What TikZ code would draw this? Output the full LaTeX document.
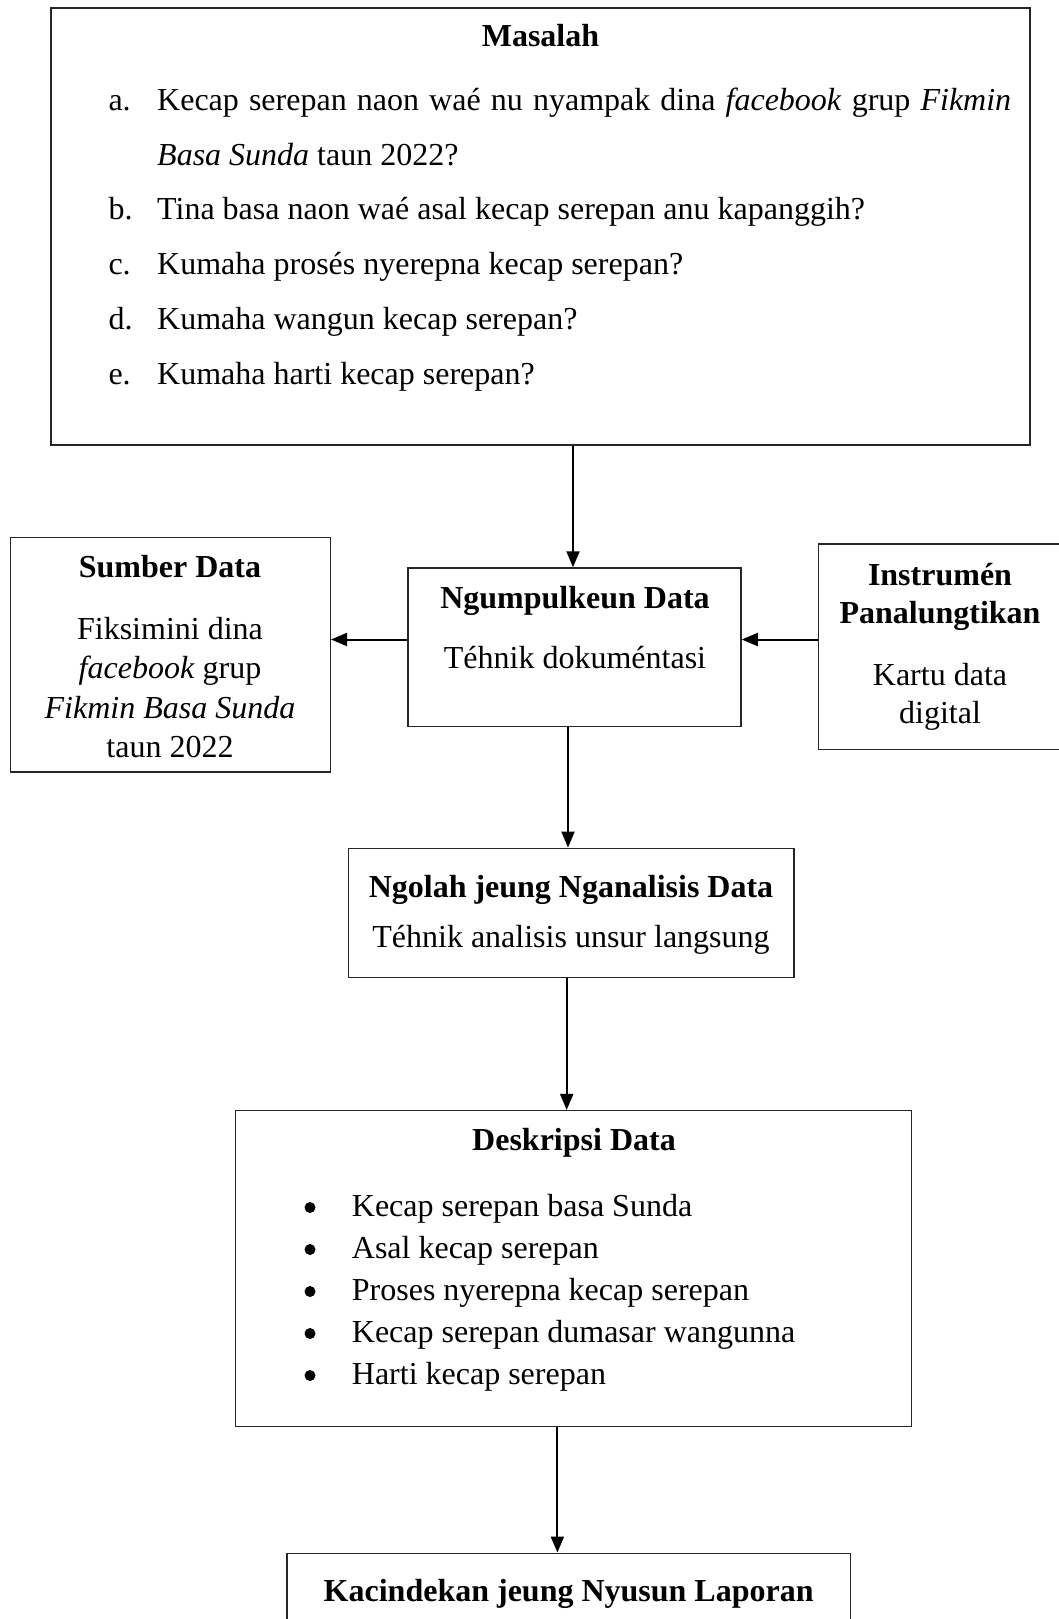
\documentclass[tikz,border=0pt]{standalone}
\usepackage{fontspec}
\setmainfont{Liberation Serif}
\usetikzlibrary{arrows.meta}
\begin{document}
\begin{tikzpicture}[x=1pt,y=-1pt,
  box/.style={draw=black!85, line width=1.5pt, rectangle, inner sep=0pt},
  txt/.style={inner sep=0pt, anchor=base, font=\fontsize{32}{38}\selectfont},
  txtw/.style={inner sep=0pt, anchor=base west, font=\fontsize{32}{38}\selectfont},
  bul/.style={circle, fill=black, inner sep=0pt, minimum size=11pt},
  arr/.style={-{Triangle[length=16pt,width=13pt]}, line width=2pt, black}]
\clip (0,0) rectangle (1059,1619);
\fill[white] (0,0) rectangle (1059,1619);
% boxes
\node[box, minimum width=979pt, minimum height=437pt] (masalah) at (540.5,226.5) {};
\node[box, minimum width=333pt, minimum height=158.5pt] (ngum) at (574.5,647.25) {};
\node[box, minimum width=320pt, minimum height=234.7pt] (sumber) at (170.3,654.65) {};
\node[box, minimum width=262pt, minimum height=205.3pt] (instr) at (949.5,646.65) {};
\node[box, minimum width=445.5pt, minimum height=129pt] (ngolah) at (571.25,912.8) {};
\node[box, minimum width=676.1pt, minimum height=316pt] (desk) at (573.35,1268.7) {};
\node[box, minimum width=563.5pt, minimum height=100pt] (kac) at (568.75,1603.3) {};
% Masalah text
\node[txt] (mt) at (540.5,47) {\textbf{Masalah}};
\node[txtw] (la) at (108.3,110) {a.};
\node[txtw] (ta) at (157,110) {\makebox[854pt][s]{Kecap serepan naon waé nu nyampak dina \textit{facebook} grup \textit{Fikmin}}};
\node[txtw] (ta2) at (157,165) {\textit{Basa Sunda} taun 2022?};
\node[txtw] (lb) at (108.3,219) {b.};
\node[txtw] (tb) at (157,219) {Tina basa naon waé asal kecap serepan anu kapanggih?};
\node[txtw] (lc) at (108.3,274) {c.};
\node[txtw] (tc) at (157,274) {Kumaha prosés nyerepna kecap serepan?};
\node[txtw] (ld) at (108.3,329) {d.};
\node[txtw] (td) at (157,329) {Kumaha wangun kecap serepan?};
\node[txtw] (le) at (108.3,384) {e.};
\node[txtw] (te) at (157,384) {Kumaha harti kecap serepan?};
% Ngumpulkeun
\node[txt] (nt) at (575,608.3) {\textbf{Ngumpulkeun Data}};
\node[txt] (n2) at (575,668.3) {Téhnik dokuméntasi};
% Sumber
\node[txt] (st) at (170,577.5) {\textbf{Sumber Data}};
\node[txt] (s2) at (170,639) {Fiksimini dina};
\node[txt] (s3) at (170,678) {\textit{facebook} grup};
\node[txt] (s4) at (170,718) {\textit{Fikmin Basa Sunda}};
\node[txt] (s5) at (170,757) {taun 2022};
% Instrumen
\node[txt] (it) at (940,585) {\textbf{Instrumén}};
\node[txt] (i2) at (940,623.3) {\textbf{Panalungtikan}};
\node[txt] (i3) at (940,685) {Kartu data};
\node[txt] (i4) at (940,723.3) {digital};
% Ngolah
\node[txt] (gt) at (571,897.5) {\textbf{Ngolah jeung Nganalisis Data}};
\node[txt] (g2) at (571,947.5) {Téhnik analisis unsur langsung};
% Deskripsi
\node[txt] (dt) at (574,1150.7) {\textbf{Deskripsi Data}};
\foreach \i/\yy/\t in {1/1216/Kecap serepan basa Sunda, 2/1258/Asal kecap serepan, 3/1300/Proses nyerepna kecap serepan, 4/1342/Kecap serepan dumasar wangunna, 5/1384/Harti kecap serepan}{
  \node[bul] (db\i) at (310,\yy-8.5) {};
  \node[txtw] (dx\i) at (351.7,\yy) {\t};
}
% Kacindekan
\node[txt] (kt) at (568.7,1601.7) {\textbf{Kacindekan jeung Nyusun Laporan}};
% connectors
\coordinate (c1) at (573,0);
\coordinate (c2) at (568,0);
\coordinate (c3) at (566.7,0);
\coordinate (c4) at (557.4,0);
\coordinate (c5) at (0,639.5);
\draw[arr] (masalah.south -| c1) -- (ngum.north -| c1);
\draw[arr] (ngum.west |- c5) -- (sumber.east |- c5);
\draw[arr] (instr.west |- c5) -- (ngum.east |- c5);
\draw[arr] (ngum.south -| c2) -- (ngolah.north -| c2);
\draw[arr] (ngolah.south -| c3) -- (desk.north -| c3);
\draw[arr] (desk.south -| c4) -- (kac.north -| c4);
\end{tikzpicture}
\end{document}
